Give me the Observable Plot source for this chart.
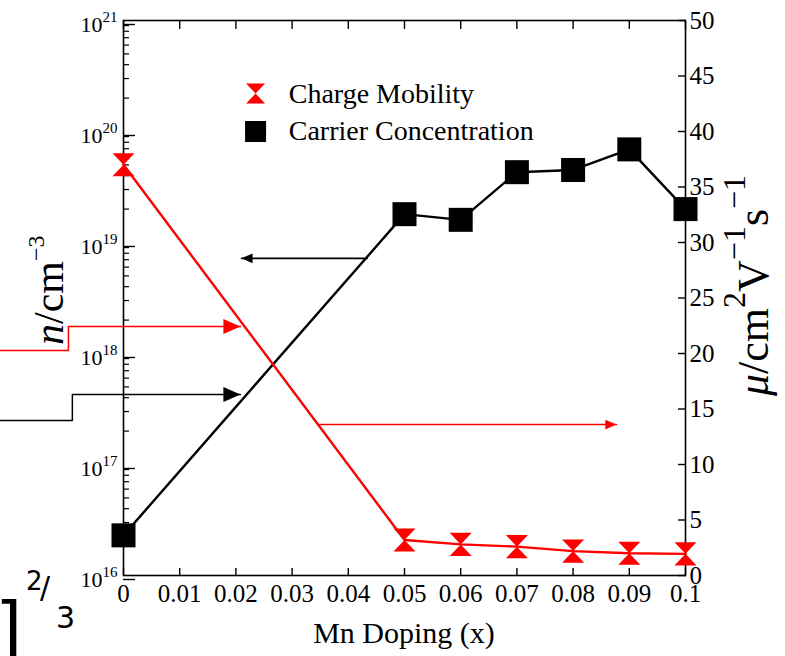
<!DOCTYPE html>
<html><head><meta charset="utf-8">
<script src="https://cdn.jsdelivr.net/npm/d3@7"></script>
<script src="https://cdn.jsdelivr.net/npm/@observablehq/plot@0.6"></script>
<style>
body{margin:0;background:#fff;}
#chart{position:relative;width:785px;height:656px;overflow:hidden;}
#chart svg{display:block;}
</style></head><body><div id="chart"></div>
<script>
// ---- data ----
const doping = [0, 0.05, 0.06, 0.07, 0.08, 0.09, 0.1];
const concentration = [2.3e16, 1.8e19, 1.6e19, 4.3e19, 4.5e19, 6.9e19, 2.0e19]; // cm^-3 (left, log)
const mobility = [37.0, 3.2, 2.8, 2.6, 2.2, 2.0, 1.95];                          // cm^2 V^-1 s^-1 (right)
const xTicks = [0, 0.01, 0.02, 0.03, 0.04, 0.05, 0.06, 0.07, 0.08, 0.09, 0.1];
const leftTicks = [1e16, 1e17, 1e18, 1e19, 1e20, 1e21];
const rightTicks = [0, 5, 10, 15, 20, 25, 30, 35, 40, 45, 50];
const seriesNames = ["Charge Mobility", "Carrier Concentration"];
// annotation arrows (x = Mn doping, concentration or mobility values)
const arrowConcX = [0.0434, 0.0210];  const arrowConcY = [7.2e18, 7.2e18];
const arrowMobX = [0.0349, 0.0877];   const arrowMobY = [13.6, 13.6];
const stepMobX = [-0.023, -0.0098, -0.0098, 0.0208]; const stepMobY = [20.27, 20.27, 22.43, 22.43];
const stepConcX = [-0.023, -0.0091, -0.0091, 0.0208]; const stepConcY = [2.49e17, 2.49e17, 4.28e17, 4.28e17];

// right axis (mobility) maps linearly onto the log decades of the left axis
const toY = m => Math.pow(10, 16 + m / 10);
const fromY = v => (Math.log10(v) - 16) * 10;

const minorTicks = [];
for (let e = 16; e < 21; e++) for (let k = 2; k <= 9; k++) minorTicks.push(k * Math.pow(10, e));

// custom symbols
const hourglass = {draw(ctx, size) {
  const r = Math.sqrt(size / Math.PI), h = r * 1.05;
  ctx.moveTo(-r, -h); ctx.lineTo(r, -h); ctx.lineTo(0, 0); ctx.closePath();
  ctx.moveTo(-r, h); ctx.lineTo(r, h); ctx.lineTo(0, 0); ctx.closePath();
}};
const squareSym = {draw(ctx, size) {
  const r = Math.sqrt(size / Math.PI);
  ctx.rect(-r, -r, 2 * r, 2 * r);
}};
const headRight = {draw(ctx, size) {
  const r = Math.sqrt(size / Math.PI);
  ctx.moveTo(0, 0); ctx.lineTo(-1.7 * r, -0.75 * r); ctx.lineTo(-1.7 * r, 0.75 * r); ctx.closePath();
}};

const concData = doping.map((x, i) => ({x, y: concentration[i]}));
const mobData = doping.map((x, i) => ({x, y: toY(mobility[i])}));
const pts = (xs, ys, f = v => v) => xs.map((x, i) => ({x, y: f(ys[i])}));

// legend anchor (data units)
const legX = 0.0235, legTextX = 0.0294;
const legY = [Math.pow(10, 20.342), Math.pow(10, 20.0)];

const plot = Plot.plot({
  width: 785, height: 656,
  marginLeft: 123, marginRight: 100, marginTop: 20, marginBottom: 81,
  style: {fontFamily: "'Liberation Serif', 'Times New Roman', serif", background: "white", color: "black", overflow: "visible"},
  x: {domain: [0, 0.1]},
  y: {type: "log", domain: [1e16, 1e21]},
  marks: [
    Plot.frame({stroke: "black", strokeWidth: 1.6}),
    Plot.axisX(xTicks, {anchor: "bottom", tickSize: -7, tickPadding: 16, strokeWidth: 1.4,
      tickFormat: d => String(+d.toFixed(2)), fontSize: 25, label: null}),
    Plot.axisX(xTicks, {anchor: "top", tickSize: -8, strokeWidth: 1.4, tickFormat: () => "", label: null}),
    Plot.axisY(leftTicks, {anchor: "left", tickSize: -12, tickPadding: 18, strokeWidth: 1.4,
      tickFormat: d => "10^" + Math.round(Math.log10(d)), fontSize: 22, dy: 4, label: null}),
    Plot.axisY(minorTicks, {anchor: "left", tickSize: -6, strokeWidth: 1.2, tickFormat: () => "", label: null}),
    Plot.axisY(rightTicks.map(toY), {anchor: "right", tickSize: -8, tickPadding: 12, strokeWidth: 1.4,
      tickFormat: d => String(Math.round(fromY(d))), fontSize: 25, label: null}),
    // annotation arrows
    Plot.line(pts(stepMobX, stepMobY, toY), {x: "x", y: "y", stroke: "red", strokeWidth: 1.5}),
    Plot.line(pts(stepConcX, stepConcY), {x: "x", y: "y", stroke: "black", strokeWidth: 1.5}),
    Plot.dot([pts(stepMobX, stepMobY, toY)[3]], {x: "x", y: "y", symbol: headRight, r: 10, fill: "red", stroke: null}),
    Plot.dot([pts(stepConcX, stepConcY)[3]], {x: "x", y: "y", symbol: headRight, r: 10, fill: "black", stroke: null}),
    Plot.line(pts(arrowConcX, arrowConcY), {x: "x", y: "y", stroke: "black", strokeWidth: 1.6}),
    Plot.dot([pts(arrowConcX, arrowConcY)[1]], {x: "x", y: "y", symbol: headRight, rotate: 180, r: 6.5, fill: "black", stroke: null}),
    Plot.line(pts(arrowMobX, arrowMobY, toY), {x: "x", y: "y", stroke: "red", strokeWidth: 1.6}),
    Plot.dot([pts(arrowMobX, arrowMobY, toY)[1]], {x: "x", y: "y", symbol: headRight, r: 6.5, fill: "red", stroke: null}),
    // data
    Plot.line(concData, {x: "x", y: "y", stroke: "black", strokeWidth: 2.4}),
    Plot.line(mobData, {x: "x", y: "y", stroke: "red", strokeWidth: 2.4}),
    Plot.dot(concData, {x: "x", y: "y", symbol: squareSym, r: 12, fill: "black", stroke: null}),
    Plot.dot(mobData, {x: "x", y: "y", symbol: hourglass, r: 11, fill: "red", stroke: null}),
    // legend
    Plot.dot([{x: legX, y: legY[0]}], {x: "x", y: "y", symbol: hourglass, r: 9.5, fill: "red", stroke: null}),
    Plot.dot([{x: legX, y: legY[1]}], {x: "x", y: "y", symbol: squareSym, r: 10.5, fill: "black", stroke: null}),
    Plot.text(seriesNames.map((t, i) => ({t, x: legTextX, y: legY[i]})), {x: "x", y: "y", text: "t", textAnchor: "start", lineAnchor: "middle", fontSize: 28, fill: "black"})
  ]
});

document.getElementById("chart").appendChild(plot);
const svg = plot;
const NS = "http://www.w3.org/2000/svg";
// tick label font sizes
svg.querySelectorAll('g[aria-label="x-axis tick label"] text').forEach(t => { t.style.fontSize = "25px"; });
svg.querySelectorAll('g[aria-label="y-axis tick label"]').forEach(g => {
  const anchor = g.getAttribute("text-anchor");
  g.querySelectorAll("text").forEach(t => { t.style.fontSize = anchor === "start" ? "25px" : "22px"; });
});
// superscripts for log tick labels
svg.querySelectorAll("text").forEach(t => {
  const s = t.textContent;
  if (s.includes("^")) {
    const [b, e] = s.split("^");
    t.textContent = "";
    const t1 = document.createElementNS(NS, "tspan"); t1.textContent = b; t.appendChild(t1);
    const t2 = document.createElementNS(NS, "tspan"); t2.textContent = e;
    t2.style.fontSize = "15px"; t2.setAttribute("dy", "-10"); t.appendChild(t2);
  }
});
function addText(attrs, parts) {
  const el = document.createElementNS(NS, "text");
  el.setAttribute("text-anchor", "start");
  for (const k in attrs) el.setAttribute(k, attrs[k]);
  for (const p of parts) {
    const ts = document.createElementNS(NS, "tspan");
    ts.textContent = p.t;
    for (const k in p) if (k !== "t") ts.setAttribute(k, p[k]);
    el.appendChild(ts);
  }
  svg.appendChild(el);
  return el;
}
const serif = "'Liberation Serif', 'Times New Roman', serif";
// left axis title
addText({transform: "translate(63,345) rotate(-90)", "font-size": 42, "font-family": serif, fill: "black"}, [
  {t: "n", "font-style": "italic"}, {t: "/cm"}, {t: "\u22123", "font-size": 24, dy: -19}
]);
// right axis title
addText({transform: "translate(768,396) rotate(-90)", "font-size": 44, "font-family": serif, fill: "black"}, [
  {t: "\u03bc", "font-style": "italic"}, {t: "/cm"}, {t: "2", "font-size": 32, dy: -23}, {t: "V", dy: 23},
  {t: "\u22121", "font-size": 32, dy: -23}, {t: "s", dy: 23}, {t: "\u22121", "font-size": 32, dy: -23}
]);
// x axis title
addText({x: 404, y: 643, "text-anchor": "middle", "font-size": 30, "font-family": serif, fill: "black"}, [{t: "Mn Doping (x)"}]);
// cropped fragment at bottom-left of the original figure
const sans = "'DejaVu Sans', sans-serif";
addText({x: -5, y: 652, "font-size": 70, "font-family": sans, fill: "black"}, [{t: "]"}]);
addText({x: 26, y: 590, "font-size": 26, "font-family": sans, fill: "black"}, [{t: "2"}]);
addText({x: 40, y: 598, "font-size": 30, "font-family": sans, fill: "black"}, [{t: "/"}]);
addText({x: 56, y: 628, "font-size": 30, "font-family": sans, fill: "black"}, [{t: "3"}]);
</script>
</body></html>
